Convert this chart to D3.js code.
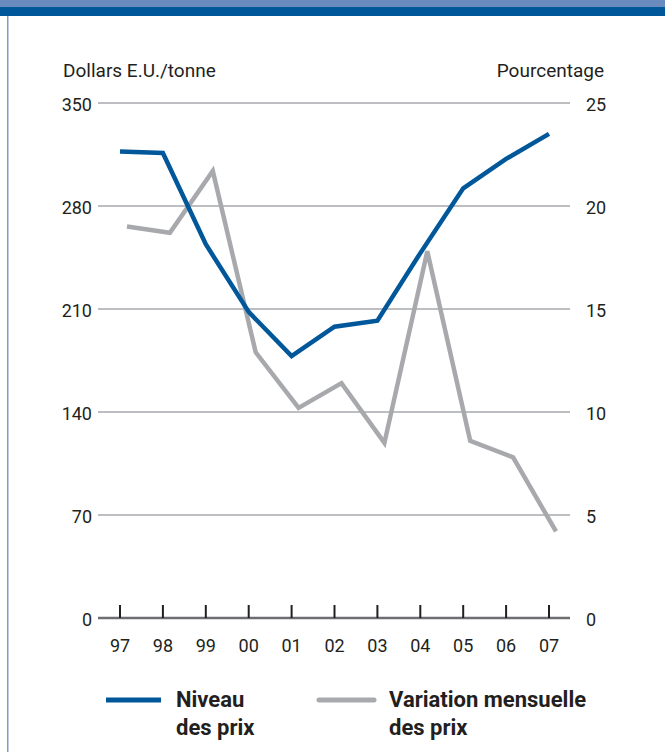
<!DOCTYPE html>
<html lang="fr">
<head>
<meta charset="utf-8" />
<title>Prix</title>
<script src="https://cdn.jsdelivr.net/npm/d3@7"></script>
<style>
  body { margin: 0; background: #fff; }
  svg text { font-family: Roboto, "Open Sans", sans-serif; fill: #231f20; }
</style>
</head>
<body>
<div id="chart"></div>
<script>
var years = ["97", "98", "99", "00", "01", "02", "03", "04", "05", "06", "07"];
// Niveau des prix, dollars E.U./tonne (axe de gauche)
var niveau = [317, 316, 254, 208, 178, 198, 202, 248, 292, 312, 329];
// Variation mensuelle des prix, pourcentage (axe de droite)
var variation = [19.0, 18.7, 21.7, 12.9, 10.2, 11.4, 8.5, 17.8, 8.6, 7.8, 4.2];
var leftTicks = [0, 70, 140, 210, 280, 350];
var rightTicks = [0, 5, 10, 15, 20, 25];

var width = 665, height = 752;
var blue = "#00579a", grey = "#a7a9ac";

var svg = d3.select("#chart").append("svg")
    .attr("width", width)
    .attr("height", height);

// bandeau du haut + bordure gauche
svg.append("rect").attr("x", 0).attr("y", 0).attr("width", width).attr("height", 7).attr("fill", "#6a8bbd");
svg.append("rect").attr("x", 0).attr("y", 7).attr("width", width).attr("height", 9).attr("fill", blue);
svg.append("rect").attr("x", 7).attr("y", 16).attr("width", 1.5).attr("height", height - 16).attr("fill", "#7f9cc7");

var x = d3.scalePoint().domain(years).range([120, 549]);
var yL = d3.scaleLinear().domain([0, 350]).range([618, 103]);
var yR = d3.scaleLinear().domain([0, 25]).range([618, 103]);
var x0 = 98, x1 = 570;

// grille
svg.selectAll(".grid").data(leftTicks.slice(1)).enter().append("line")
    .attr("x1", x0).attr("x2", x1)
    .attr("y1", d => yL(d)).attr("y2", d => yL(d))
    .attr("stroke", "#a7a9ac").attr("stroke-width", 1.5);

// axe des x
svg.append("line").attr("x1", x0).attr("x2", x1).attr("y1", yL(0)).attr("y2", yL(0))
    .attr("stroke", "#6d6e71").attr("stroke-width", 2.5);
svg.selectAll(".tick").data(years).enter().append("line")
    .attr("x1", d => x(d)).attr("x2", d => x(d))
    .attr("y1", yL(0) - 13).attr("y2", yL(0))
    .attr("stroke", "#231f20").attr("stroke-width", 2);
svg.selectAll(".xlab").data(years).enter().append("text")
    .attr("x", d => x(d)).attr("y", 652)
    .attr("text-anchor", "middle").attr("font-size", 18)
    .text(d => d);

// étiquettes des axes
svg.selectAll(".ylab").data(leftTicks).enter().append("text")
    .attr("x", 92).attr("y", d => yL(d) + 8)
    .attr("text-anchor", "end").attr("font-size", 18)
    .text(d => d);
svg.selectAll(".yrlab").data(rightTicks).enter().append("text")
    .attr("x", 586).attr("y", d => yR(d) + 8)
    .attr("font-size", 18)
    .text(d => d);

svg.append("text").attr("x", 63).attr("y", 77).attr("font-size", 19).text("Dollars E.U./tonne");
svg.append("text").attr("x", 604).attr("y", 77).attr("font-size", 19).attr("text-anchor", "end").text("Pourcentage");

// séries
var lineL = d3.line().x((d, i) => x(years[i])).y(d => yL(d));
var lineR = d3.line().x((d, i) => x(years[i]) + 7).y(d => yR(d));

svg.append("path").datum(variation).attr("d", lineR)
    .attr("fill", "none").attr("stroke", grey).attr("stroke-width", 4.5)
    .attr("stroke-linejoin", "miter");
svg.append("path").datum(niveau).attr("d", lineL)
    .attr("fill", "none").attr("stroke", blue).attr("stroke-width", 4.5)
    .attr("stroke-linejoin", "miter");

// légende
var legend = [
  { color: blue, x: 106, lines: ["Niveau", "des prix"], cap: "butt" },
  { color: grey, x: 319, lines: ["Variation mensuelle", "des prix"], cap: "round" }
];
var lg = svg.selectAll(".leg").data(legend).enter().append("g");
lg.append("line")
    .attr("x1", d => d.x).attr("x2", d => d.x + 55)
    .attr("y1", 700).attr("y2", 700)
    .attr("stroke", d => d.color).attr("stroke-width", 5)
    .attr("stroke-linecap", d => d.cap);
lg.each(function(d) {
  var t = d3.select(this).append("text")
      .attr("x", d.x + 70).attr("y", 707)
      .attr("font-size", 22).attr("font-weight", "bold");
  t.selectAll("tspan").data(d.lines).enter().append("tspan")
      .attr("x", d.x + 70).attr("dy", (l, i) => i ? 28 : 0)
      .text(l => l);
});
</script>
</body>
</html>
